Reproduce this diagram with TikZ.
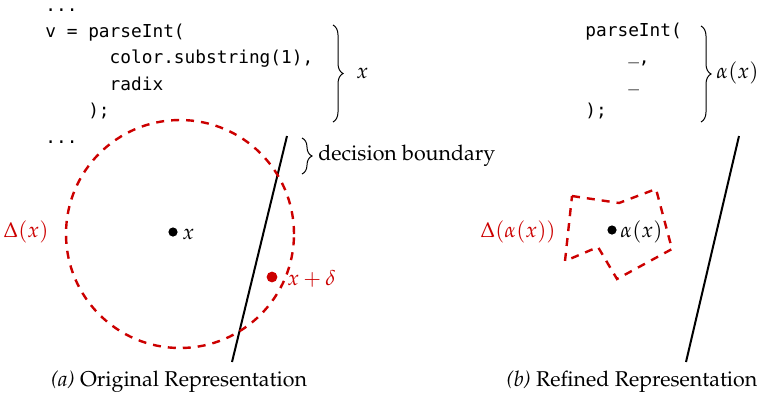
\documentclass[tikz,border=0pt]{standalone}
\usepackage[T1]{fontenc}
\usepackage{fontspec}
\newfontfamily\codefont{DejaVu Sans Mono}
\usepackage{mathpazo}
\usetikzlibrary{decorations.pathreplacing}
\definecolor{dred}{RGB}{204,0,0}
\newcommand\paltext{\fontencoding{T1}\fontfamily{ppl}\selectfont}
\tikzset{
  txt/.style={inner sep=0pt, font=\paltext\fontsize{10.7}{13}\selectfont},
  code/.style={inner sep=0pt, anchor=base west, font=\codefont\fontsize{8.9}{13}\selectfont},
  reddash/.style={draw=dred, line width=1.2pt, dash pattern=on 4pt off 3.5pt},
  boundary/.style={draw=black, line width=1pt},
  bracestyle/.style={decorate, decoration={brace, amplitude=5pt}, line width=0.5pt},
  blackdot/.style={circle, fill=black, inner sep=0pt, minimum size=4.6pt},
  reddot/.style={circle, fill=dred, inner sep=0pt, minimum size=5.4pt},
}
\begin{document}
\begin{tikzpicture}[x=0.5pt, y=-0.5pt]
\useasboundingbox (0,0) rectangle (760,398);
% (a) code
\node[code] (a0) at (45,11) {...};
\node[code] (a1) at (45,37) {v = parseInt(};
\node[code] (a2) at (45,63) {\ \ \ \ \ \ color.substring(1),};
\node[code] (a3) at (45,90) {\ \ \ \ \ \ radix};
\node[code] (a4) at (45,116) {\ \ \ \ );};
\node[code] (a5) at (45,143) {...};
\coordinate (b1t) at (333,25);
\coordinate (b1b) at (333,122);
\draw[bracestyle] (b1t) -- (b1b);
\node[txt, anchor=west] (lx) at (356,73) {$x$};
% decision boundary
\coordinate (db1) at (287,136);
\coordinate (db2) at (232,362);
\draw[boundary] (db1) -- (db2);
\coordinate (b2t) at (302,138);
\coordinate (b2b) at (302,174);
\draw[bracestyle] (b2t) -- (b2b);
\node[txt, anchor=west] (dblab) at (318,156) {decision boundary};
% circle
\coordinate (cc) at (180,234);
\draw[reddash] (cc) circle[radius=57pt];
\node[txt, text=dred, anchor=east] (Dx) at (49,232) {$\Delta(x)$};
\node[blackdot] (x) at (173,232) {};
\node[txt, anchor=west] (xl) at (182,234) {$x$};
\node[reddot] (xd) at (272,277) {};
\node[txt, text=dred, anchor=west] (xdl) at (287,279) {$x+\delta$};
\node[txt] (capa) at (179,382) {\textit{(a)} Original Representation};
% (b) code
\node[code] (r1) at (585,36) {parseInt(};
\node[code] (r2) at (585,63) {\ \ \ \ \raisebox{0.22em}{\_},};
\node[code] (r3) at (585,90) {\ \ \ \ \raisebox{0.22em}{\_}};
\node[code] (r4) at (585,116) {);};
\coordinate (b3t) at (701,26);
\coordinate (b3b) at (701,122);
\draw[bracestyle] (b3t) -- (b3b);
\node[txt, anchor=west] (ax) at (716,73) {$\alpha(x)$};
% (b) boundary
\coordinate (rb1) at (739,136);
\coordinate (rb2) at (686,362);
\draw[boundary] (rb1) -- (rb2);
% polygon
\coordinate (p1) at (572,196);
\coordinate (p2) at (619,203);
\coordinate (p3) at (656,189);
\coordinate (p4) at (672,249);
\coordinate (p5) at (617,279);
\coordinate (p6) at (598,247);
\coordinate (p7) at (565,261);
\draw[reddash] (p1) -- (p2) -- (p3) -- (p4) -- (p5) -- (p6) -- (p7) -- cycle;
\node[txt, text=dred, anchor=east] (Dax) at (556,232) {$\Delta(\alpha(x))$};
\node[blackdot] (axd) at (612,230) {};
\node[txt, anchor=west] (axl) at (620,232) {$\alpha(x)$};
\node[txt] (capb) at (632,382) {\textit{(b)} Refined Representation};
\end{tikzpicture}
\end{document}
